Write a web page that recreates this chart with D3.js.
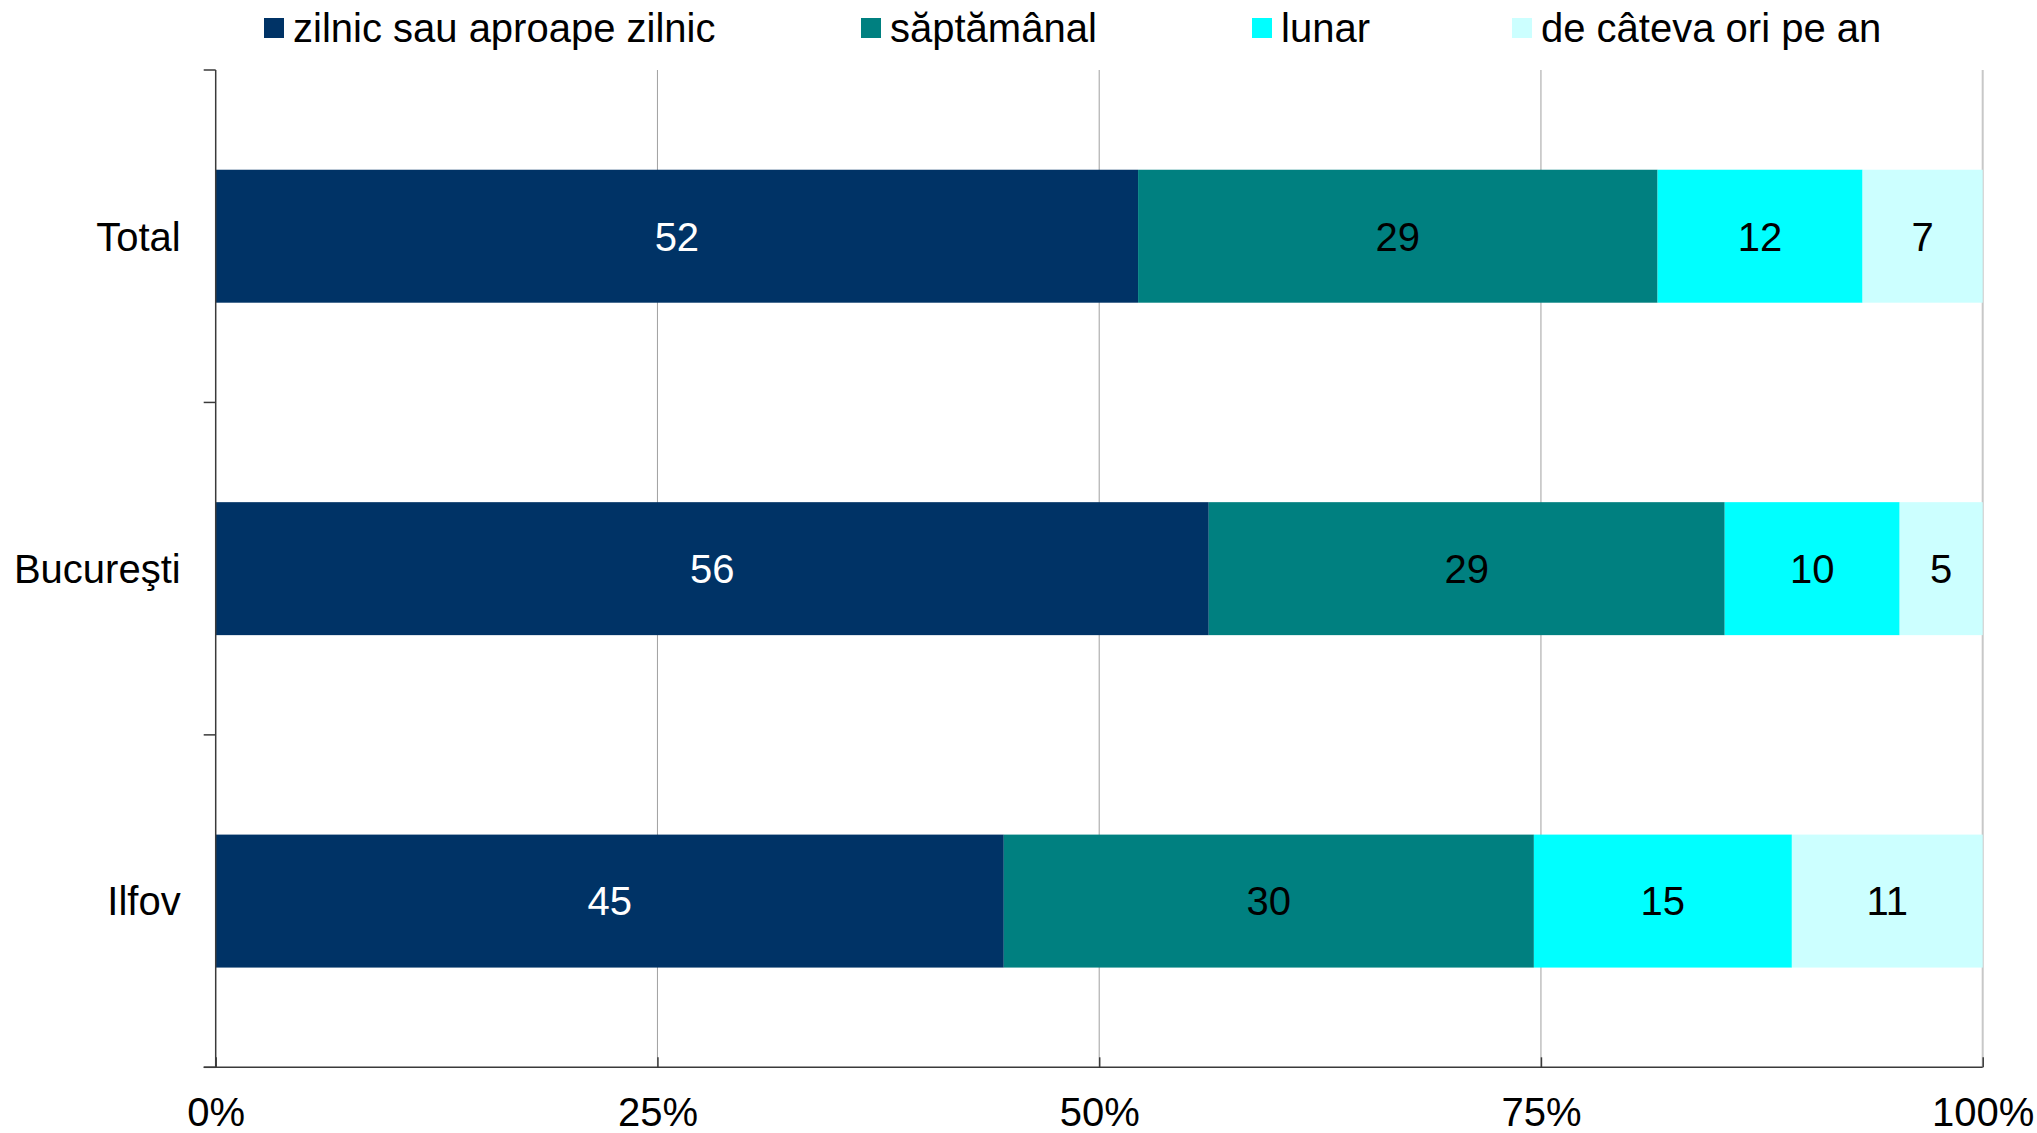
<!DOCTYPE html>
<html>
<head>
<meta charset="utf-8">
<script src="https://cdn.jsdelivr.net/npm/d3@7"></script>
<style>
  html, body { margin: 0; padding: 0; background: #fff; }
  svg { display: block; font-family: "Liberation Sans", Arial, sans-serif; }
</style>
</head>
<body>
<svg id="chart" width="2037" height="1133"></svg>
<script>
// ---- data ----
const categories = ["Total", "Bucureşti", "Ilfov"];
const seriesNames = ["zilnic sau aproape zilnic", "săptămânal", "lunar", "de câteva ori pe an"];
const zilnic = [52.2, 56.2, 44.6];
const saptamanal = [29.4, 29.2, 30.0];
const lunar = [11.6, 9.9, 14.6];
const deCatevaOri = [6.8, 4.7, 10.8];
const xTickValues = [0, 25, 50, 75, 100];
const xTickLabels = ["0%", "25%", "50%", "75%", "100%"];

// ---- styles / layout ----
const colors = ["#003366", "#008080", "#00FFFF", "#CCFFFF"];
const labelColors = ["#ffffff", "#000000", "#000000", "#000000"];
const W = 2037, H = 1133;
const margin = { left: 215.7, right: W - 1982.7, top: 70, bottom: H - 1067.3 };
const fontSize = 40;

const svg = d3.select("#chart");
const x = d3.scaleLinear().domain([0, 100]).range([margin.left, W - margin.right]);
const y = d3.scaleBand().domain(categories).range([margin.top, H - margin.bottom])
  .paddingInner(0.6).paddingOuter(0.3);

const seriesValues = [zilnic, saptamanal, lunar, deCatevaOri];
const rows = categories.map((c, i) => {
  const r = { cat: c };
  seriesNames.forEach((s, j) => r[s] = seriesValues[j][i]);
  return r;
});
const stacked = d3.stack().keys(seriesNames)(rows);

// gridlines
svg.append("g").selectAll("line").data(xTickValues.slice(1)).join("line")
  .attr("x1", d => x(d)).attr("x2", d => x(d))
  .attr("y1", margin.top).attr("y2", H - margin.bottom)
  .attr("stroke", d => d === 100 ? "#c8c8c8" : "#a0a0a0")
  .attr("stroke-width", d => d === 100 ? 2 : 1);

// bars
const g = svg.append("g");
stacked.forEach((layer, j) => {
  g.append("g").selectAll("rect").data(layer).join("rect")
    .attr("x", d => x(d[0]))
    .attr("width", d => x(d[1]) - x(d[0]))
    .attr("y", d => y(d.data.cat))
    .attr("height", y.bandwidth())
    .attr("fill", colors[j]);
  g.append("g").selectAll("text").data(layer).join("text")
    .attr("x", d => (x(d[0]) + x(d[1])) / 2)
    .attr("y", d => y(d.data.cat) + y.bandwidth() / 2)
    .attr("dy", "0.36em")
    .attr("text-anchor", "middle")
    .attr("font-size", fontSize)
    .attr("fill", labelColors[j])
    .text(d => d3.format(".0f")(d[1] - d[0]));
});

// left axis (category) with boundary ticks
const axisColor = "#3a3a3a";
const yAxis = svg.append("g");
yAxis.append("line")
  .attr("x1", x(0)).attr("x2", x(0))
  .attr("y1", margin.top).attr("y2", H - margin.bottom)
  .attr("stroke", axisColor).attr("stroke-width", 1.5);
const boundaries = d3.range(categories.length + 1).map(i => margin.top + (H - margin.bottom - margin.top) * i / categories.length);
yAxis.selectAll("line.tick").data(boundaries).join("line").attr("class", "tick")
  .attr("x1", x(0) - 12).attr("x2", x(0))
  .attr("y1", d => d).attr("y2", d => d)
  .attr("stroke", axisColor).attr("stroke-width", 1.5);
yAxis.selectAll("text").data(categories).join("text")
  .attr("x", x(0) - 35)
  .attr("y", d => y(d) + y.bandwidth() / 2)
  .attr("dy", "0.36em")
  .attr("text-anchor", "end")
  .attr("font-size", fontSize)
  .attr("fill", "#000")
  .text(d => d);

// bottom axis
const xAxis = svg.append("g").attr("transform", `translate(0,${H - margin.bottom})`)
  .call(d3.axisBottom(x).tickValues(xTickValues).tickFormat((d, i) => xTickLabels[i]).tickSizeInner(-10).tickSizeOuter(0).tickPadding(30));
xAxis.select(".domain").attr("stroke", axisColor).attr("stroke-width", 1.5)
  .attr("d", `M${x(0) - 12},0H${x(100)}`);
xAxis.selectAll(".tick line").attr("stroke", axisColor).attr("stroke-width", 1.5);
xAxis.selectAll(".tick text").attr("font-size", fontSize).attr("fill", "#000")
  .attr("font-family", "Liberation Sans, Arial, sans-serif");

// legend
const legendX = [264, 861, 1252, 1512];
const legend = svg.append("g");
seriesNames.forEach((s, j) => {
  legend.append("rect")
    .attr("x", legendX[j]).attr("y", 18)
    .attr("width", 20).attr("height", 20)
    .attr("fill", colors[j]);
  legend.append("text")
    .attr("x", legendX[j] + 29).attr("y", 28)
    .attr("dy", "0.36em")
    .attr("font-size", fontSize)
    .attr("fill", "#000")
    .text(s);
});
</script>
</body>
</html>
